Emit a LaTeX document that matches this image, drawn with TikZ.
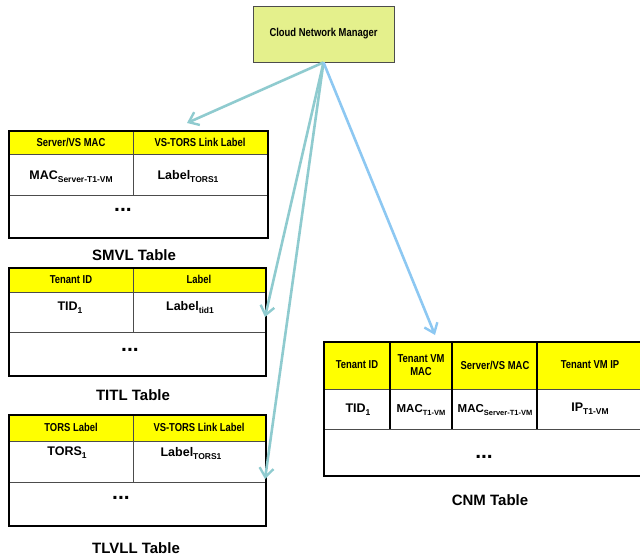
\documentclass[tikz,border=0pt]{standalone}
\usepackage{fontspec}
\setmainfont{Liberation Sans}
\newfontfamily\narrowfont[FakeStretch=0.82]{Liberation Sans}
\usetikzlibrary{arrows.meta}
\definecolor{hdryellow}{HTML}{FFFF00}
\definecolor{mgrgreen}{HTML}{E4F08C}
\definecolor{tealarrow}{HTML}{8FCBCF}
\definecolor{bluearrow}{HTML}{8DC8F2}
\newcommand\lowtext[1]{\raisebox{-0.5ex}{\fontsize{8.5}{9}\selectfont #1}}
\tikzset{
  hdr/.style={font=\narrowfont\bfseries\fontsize{11.5}{12.5}\selectfont, align=center, inner sep=0pt},
  cell/.style={font=\bfseries\fontsize{12.5}{14}\selectfont, inner sep=0pt, anchor=base},
  caption/.style={font=\bfseries\fontsize{15}{17}\selectfont, inner sep=0pt},
  dots/.style={font=\bfseries\fontsize{21}{21}\selectfont, inner sep=0pt},
  frame/.style={draw=black, line width=2.4pt, inner sep=0pt, anchor=north west},
  rule/.style={draw=black!70, line width=0.8pt},
  colrule/.style={draw=black, line width=1.8pt},
  link/.style={draw=tealarrow, line width=2.6pt,
    -{Straight Barb[length=9pt,width=14pt,line width=2.4pt]}},
  bluelink/.style={link, draw=bluearrow},
}
\begin{document}
\begin{tikzpicture}[x=1pt,y=-1pt]
\useasboundingbox (0,0) rectangle (640,557);

% manager box
\node[draw=black!70, line width=0.8pt, fill=mgrgreen, minimum width=141pt, minimum height=56pt,
  font=\narrowfont\bfseries\fontsize{11.5}{13}\selectfont] (mgr) at (323.5,34) {Cloud Network Manager};

% ---- SMVL table ----
\fill[hdryellow] (8,130) rectangle (267,154);
\draw[rule] (8,154) -- (267,154);
\draw[rule] (8,195) -- (267,195);
\draw[rule] (133,130) -- (133,195);
\node[frame, minimum width=259pt, minimum height=107pt] (smvl) at (8,130) {};
\node[hdr] (smvl-h1) at (71,142) {Server/VS MAC};
\node[hdr] (smvl-h2) at (200,142) {VS-TORS Link Label};
\node[cell] (smvl-c1) at (71,179) {MAC\lowtext{Server-T1-VM}};
\node[cell] (smvl-c2) at (188,179) {Label\lowtext{TORS1}};
\node[dots] (smvl-d) at (123,210) {...};
\node[caption] (smvl-cap) at (134,255) {SMVL Table};

% ---- TITL table ----
\fill[hdryellow] (8,267) rectangle (265,292);
\draw[rule] (8,292) -- (265,292);
\draw[rule] (8,332) -- (265,332);
\draw[rule] (133,267) -- (133,332);
\node[frame, minimum width=257pt, minimum height=108pt] (titl) at (8,267) {};
\node[hdr] (titl-h1) at (71,279.5) {Tenant ID};
\node[hdr] (titl-h2) at (199,279.5) {Label};
\node[cell] (titl-c1) at (70,310) {TID\lowtext{1}};
\node[cell] (titl-c2) at (190,310) {Label\lowtext{tid1}};
\node[dots] (titl-d) at (130,350) {...};
\node[caption] (titl-cap) at (133,395) {TITL Table};

% ---- TLVLL table ----
\fill[hdryellow] (8,414) rectangle (265,441);
\draw[rule] (8,441) -- (265,441);
\draw[rule] (8,482) -- (265,482);
\draw[rule] (133,414) -- (133,482);
\node[frame, minimum width=257pt, minimum height=111pt] (tlvll) at (8,414) {};
\node[hdr] (tlvll-h1) at (71,427.5) {TORS Label};
\node[hdr] (tlvll-h2) at (199,427.5) {VS-TORS Link Label};
\node[cell] (tlvll-c1) at (67,455) {TORS\lowtext{1}};
\node[cell] (tlvll-c2) at (191,456) {Label\lowtext{TORS1}};
\node[dots] (tlvll-d) at (121,498) {...};
\node[caption] (tlvll-cap) at (136,548) {TLVLL Table};

% ---- CNM table ----
\fill[hdryellow] (323,341) rectangle (645,389);
\draw[rule] (323,389) -- (645,389);
\draw[rule] (323,429) -- (645,429);
\draw[colrule] (390,341) -- (390,429);
\draw[colrule] (452,341) -- (452,429);
\draw[colrule] (537,341) -- (537,429);
\node[frame, minimum width=322pt, minimum height=134pt] (cnm) at (323,341) {};
\node[hdr] (cnm-h1) at (357,365) {Tenant ID};
\node[hdr] (cnm-h2) at (421,365) {Tenant VM\\MAC};
\node[hdr] (cnm-h3) at (495,365) {Server/VS MAC};
\node[hdr] (cnm-h4) at (590,365) {Tenant VM IP};
\node[cell] (cnm-c1) at (358,412) {TID\lowtext{1}};
\node[cell, font=\bfseries\fontsize{11.5}{13}\selectfont] (cnm-c2) at (421,412) {MAC\lowtext{\fontsize{7.5}{8}\selectfont T1-VM}};
\node[cell, font=\bfseries\fontsize{11.5}{13}\selectfont] (cnm-c3) at (495,412) {MAC\lowtext{\fontsize{7.5}{8}\selectfont Server-T1-VM}};
\node[cell] (cnm-c4) at (590,411) {IP\lowtext{T1-VM}};
\node[dots] (cnm-d) at (484,457) {...};
\node[caption] (cnm-cap) at (490,500) {CNM Table};

% arrow end points
\coordinate (smvl-in) at (187,123);
\coordinate (titl-in) at (265,317);
\coordinate (tlvll-in) at (265,479);
\coordinate (cnm-in) at (435,335);

% connectors from the manager
\draw[link] (mgr.south) -- (smvl-in);
\draw[link] (mgr.south) -- (titl-in);
\draw[link] (mgr.south) -- (tlvll-in);
\draw[bluelink] (mgr.south) -- (cnm-in);
\end{tikzpicture}
\end{document}
